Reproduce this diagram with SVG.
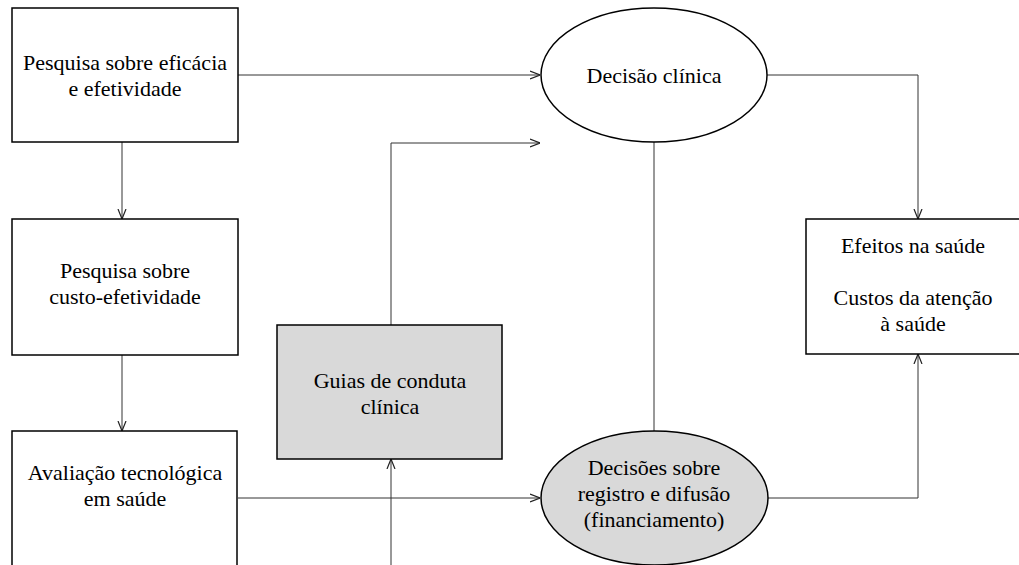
<svg xmlns="http://www.w3.org/2000/svg" width="1019" height="565" viewBox="0 0 1019 565">
<style>
.box{fill:#fff;stroke:#000;stroke-width:1.5}
.gray{fill:#d9d9d9;stroke:#000;stroke-width:1.5}
.t{font-family:'Liberation Serif','Times New Roman',serif;font-size:22px;fill:#000;text-anchor:middle}
.c{fill:none;stroke:#333;stroke-width:1}
</style>
<defs>
<marker id="arr" viewBox="0 0 10 10" refX="10" refY="5" markerWidth="10" markerHeight="10" markerUnits="userSpaceOnUse" orient="auto">
<path d="M0,1 L10,5 L0,9" fill="none" stroke="#222" stroke-width="1.2"/>
</marker>
</defs>
<rect width="1019" height="565" fill="#fff"/>
<g id="connectors">
<path class="c" d="M238,75 H540" marker-end="url(#arr)"/>
<path class="c" d="M122,142 V219" marker-end="url(#arr)"/>
<path class="c" d="M122,355 V431" marker-end="url(#arr)"/>
<path class="c" d="M391,325 V143 H540" marker-end="url(#arr)"/>
<path class="c" d="M238,498 H540" marker-end="url(#arr)"/>
<path class="c" d="M391,565 V459" marker-end="url(#arr)"/>
<path class="c" d="M654,142 V431"/>
<path class="c" d="M767,75 H918 V219" marker-end="url(#arr)"/>
<path class="c" d="M768,498 H918 V354" marker-end="url(#arr)"/>
</g>
<g id="n1">
<rect class="box" x="12" y="8" width="226" height="134"/>
<text class="t" x="125" y="70">Pesquisa sobre eficácia</text>
<text class="t" x="125" y="96">e efetividade</text>
</g>
<g id="n2">
<rect class="box" x="12" y="219" width="226" height="136"/>
<text class="t" x="125" y="278">Pesquisa sobre</text>
<text class="t" x="125" y="304">custo-efetividade</text>
</g>
<g id="n3">
<rect class="box" x="12" y="431" width="225" height="150"/>
<text class="t" x="125" y="480">Avaliação tecnológica</text>
<text class="t" x="125" y="506">em saúde</text>
</g>
<g id="n4">
<rect class="gray" x="277" y="325" width="225" height="134"/>
<text class="t" x="390" y="388">Guias de conduta</text>
<text class="t" x="390" y="414">clínica</text>
</g>
<g id="n5">
<ellipse class="box" cx="654" cy="75" rx="113" ry="67"/>
<text class="t" x="654" y="83">Decisão clínica</text>
</g>
<g id="n6">
<ellipse class="gray" cx="654.5" cy="498" rx="113.5" ry="67"/>
<text class="t" x="654" y="475">Decisões sobre</text>
<text class="t" x="654" y="501">registro e difusão</text>
<text class="t" x="654" y="527">(financiamento)</text>
</g>
<g id="n7">
<rect class="box" x="806" y="219" width="230" height="135"/>
<text class="t" x="913" y="253">Efeitos na saúde</text>
<text class="t" x="913" y="305">Custos da atenção</text>
<text class="t" x="913" y="331">à saúde</text>
</g>
</svg>
